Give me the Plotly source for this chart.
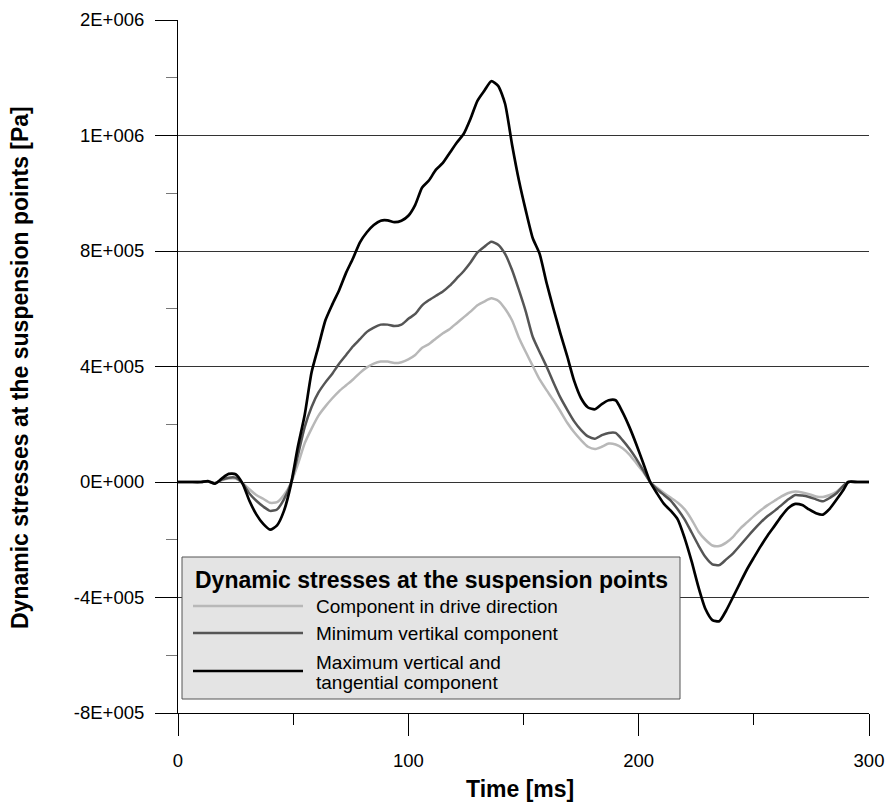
import plotly.graph_objects as go

# Time axis [ms] shared by all three stress components
time_ms = [0, 5, 10, 13, 16, 19, 22, 25, 28, 31, 34, 37, 40, 43, 46, 49, 52, 55, 58, 61,
           64, 67, 70, 73, 76, 79, 82, 85, 88, 91, 94, 97, 100, 103, 106, 109, 112, 115, 118, 121,
           124, 127, 130, 133, 136, 139, 142, 145, 148, 151, 154, 157, 160, 163, 166, 169, 172, 175, 178, 181,
           184, 187, 190, 193, 196, 199, 202, 205, 208, 211, 214, 217, 220, 223, 226, 229, 232, 235, 238, 241,
           244, 247, 250, 253, 256, 259, 262, 265, 268, 271, 274, 277, 280, 283, 286, 289, 291, 295, 300]

# Dynamic stresses in kPa
drive_direction_kpa = [0, 0, 0, 2, -3, 6, 12, 12, -3, -25, -45, -58, -72, -70, -45, -5, 60, 134, 185, 230,
                       262, 290, 315, 335, 355, 378, 397, 410, 417, 417, 412, 415, 425, 440, 465, 478, 497, 515, 530, 550,
                       570, 590, 612, 625, 636, 628, 600, 560, 500, 450, 402, 355, 318, 283, 245, 205, 172, 145, 122, 114,
                       122, 133, 130, 117, 95, 65, 35, 0, -20, -38, -55, -72, -95, -130, -172, -200, -220, -222, -210, -190,
                       -162, -140, -118, -98, -80, -65, -50, -38, -33, -36, -42, -50, -52, -45, -33, -12, 0, 0, 0]

min_vertical_kpa = [0, 0, 0, 2, -4, 8, 15, 15, -5, -40, -65, -85, -100, -95, -60, -5, 90, 190, 260, 310,
                    345, 375, 410, 440, 470, 495, 520, 535, 545, 545, 540, 545, 565, 582, 612, 630, 645, 660, 680, 705,
                    730, 760, 795, 815, 832, 822, 790, 735, 665, 590, 503, 450, 400, 345, 293, 250, 210, 180, 158, 150,
                    162, 170, 170, 145, 115, 80, 40, 0, -25, -45, -65, -95, -130, -175, -220, -260, -285, -288, -268, -247,
                    -220, -192, -165, -140, -118, -100, -80, -60, -45, -47, -52, -60, -67, -55, -38, -12, 0, 0, 0]

max_vert_tang_kpa = [0, 0, 0, 3, -6, 12, 28, 27, -5, -65, -112, -145, -165, -150, -100, -10, 120, 232, 380, 470,
                     560, 615, 665, 725, 775, 830, 865, 890, 905, 906, 900, 905, 922, 960, 1020, 1045, 1082, 1105, 1140, 1175,
                     1205, 1258, 1320, 1355, 1388, 1372, 1310, 1170, 1045, 940, 845, 790, 690, 600, 515, 435, 350, 290, 258, 252,
                     270, 283, 283, 242, 190, 130, 65, 0, -40, -76, -100, -130, -195, -275, -365, -440, -478, -482, -445, -398,
                     -350, -303, -262, -222, -185, -152, -118, -90, -76, -80, -95, -108, -113, -92, -60, -26, 0, 0, 0]

legend_title = "Dynamic stresses at the suspension points"
legend_lines = [["Component in drive direction"],
                ["Minimum vertikal component"],
                ["Maximum vertical and", "tangential component"]]
series_colors = ["#b8b8b8", "#555555", "#000000"]
series_widths = [2.5, 2.5, 2.7]

y_tickvals = [-800000, -400000, 0, 400000, 800000, 1200000, 1600000]
y_ticktext = ["-8E+005", "-4E+005", "0E+000", "4E+005", "8E+005", "1E+006", "2E+006"]
y_minorvals = [-600000, -200000, 200000, 600000, 1000000, 1400000]
x_tickvals = [0, 100, 200, 300]
x_minorvals = [50, 150, 250]

FONT = "Liberation Sans, Arial, sans-serif"

fig = go.Figure()
all_series = [drive_direction_kpa, min_vertical_kpa, max_vert_tang_kpa]
for vals, lines, color, width in zip(all_series, legend_lines, series_colors, series_widths):
    fig.add_trace(go.Scatter(
        x=time_ms, y=[v * 1000 for v in vals], mode="lines", name=" ".join(lines),
        line=dict(color=color, width=width, shape="spline", smoothing=0.6),
        showlegend=False, hoverinfo="skip"))

# Plot area in pixels: x 178..869, y 20..713
L, R, T, B = 178, 869, 20, 713
W, H = R - L, B - T


def px(x):
    return (x - L) / W


def py(y):
    return (B - y) / H


# Legend box drawn by hand (long line samples)
shapes = [dict(type="rect", xref="paper", yref="paper",
               x0=px(182), x1=px(680), y0=py(699), y1=py(557),
               fillcolor="#e4e4e4", line=dict(color="#555555", width=1), layer="above")]
annotations = [dict(text="<b>%s</b>" % legend_title, xref="paper", yref="paper",
                    x=px(193), y=py(580), xanchor="left", yanchor="middle", showarrow=False,
                    font=dict(family=FONT, size=23, color="#000"))]
sample_y = [606, 633, 671]
text_rows_y = [[606], [633], [662, 682]]
for lines, color, width, sy, rows in zip(legend_lines, series_colors, series_widths, sample_y, text_rows_y):
    shapes.append(dict(type="line", xref="paper", yref="paper", x0=px(193), x1=px(303),
                       y0=py(sy), y1=py(sy), line=dict(color=color, width=width), layer="above"))
    for text, ty in zip(lines, rows):
        annotations.append(dict(text=text, xref="paper", yref="paper", x=px(314), y=py(ty),
                                xanchor="left", yanchor="middle", align="left", showarrow=False,
                                font=dict(family=FONT, size=19, color="#000")))

# Axis titles
annotations.append(dict(text="<b>Time [ms]</b>", xref="paper", yref="paper", x=px(520), y=py(789),
                        xanchor="center", yanchor="middle", showarrow=False,
                        font=dict(family=FONT, size=23, color="#000")))
annotations.append(dict(text="<b>Dynamic stresses at the suspension points [Pa]</b>", xref="paper", yref="paper",
                        x=px(20), y=py(368), xanchor="center", yanchor="middle", textangle=-90,
                        showarrow=False, font=dict(family=FONT, size=23, color="#000")))

fig.update_layout(
    template="none",
    width=888, height=805, autosize=False,
    margin=dict(l=L, r=888 - R, t=T, b=805 - B, pad=0, autoexpand=False),
    paper_bgcolor="white", plot_bgcolor="white",
    font=dict(family=FONT, size=18, color="#000"),
    shapes=shapes, annotations=annotations,
    xaxis=dict(range=[0, 300], tickvals=x_tickvals, ticktext=[str(v) for v in x_tickvals],
               automargin=False,
               showgrid=False, zeroline=False, showline=True, linecolor="#000", linewidth=1,
               ticks="outside", ticklen=22, tickcolor="#000", tickwidth=1, ticklabelstandoff=9,
               tickfont=dict(family=FONT, size=18.5, color="#000"),
               minor=dict(tickvals=x_minorvals, ticks="outside", ticklen=11, tickcolor="#000",
                          tickwidth=1, showgrid=False)),
    yaxis=dict(range=[-800000, 1600000], tickvals=y_tickvals, ticktext=y_ticktext,
               automargin=False,
               showgrid=True, gridcolor="#333333", gridwidth=1, zeroline=False,
               showline=True, linecolor="#000", linewidth=1,
               ticks="outside", ticklen=22, tickcolor="#000", tickwidth=1, ticklabelstandoff=7,
               tickfont=dict(family=FONT, size=18.5, color="#000"),
               minor=dict(tickvals=y_minorvals, ticks="outside", ticklen=11, tickcolor="#777777",
                          tickwidth=1, showgrid=False)),
)

fig.write_html("out.html")
